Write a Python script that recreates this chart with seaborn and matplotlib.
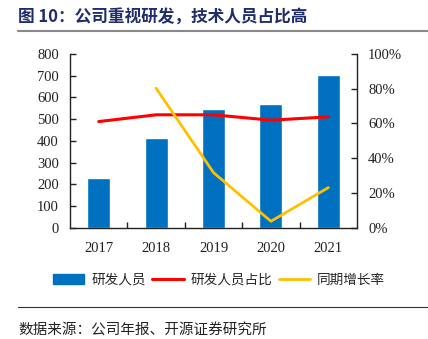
import matplotlib
matplotlib.use("Agg")
import matplotlib.pyplot as plt
from matplotlib.lines import Line2D
from matplotlib.patches import Patch
import seaborn as sns
import pandas as pd

years = ["2017", "2018", "2019", "2020", "2021"]
rd_staff = [229, 412, 546, 569, 702]
rd_share = [0.611, 0.650, 0.650, 0.619, 0.638]
yoy_growth = [None, 0.803, 0.317, 0.037, 0.231]

left_ticks = [0, 100, 200, 300, 400, 500, 600, 700, 800]
right_ticks = [0, 0.2, 0.4, 0.6, 0.8, 1.0]
right_labels = ["0%", "20%", "40%", "60%", "80%", "100%"]

sns.set_theme(style="white")
plt.rcParams["font.family"] = ["Liberation Serif", "Noto Sans CJK SC", "DejaVu Sans"]
cjk = ["Noto Sans CJK SC", "DejaVu Sans"]

BLUE = "#0070C0"
RED = "#FF0000"
YELLOW = "#FFC000"
INK = "#222222"

fig = plt.figure(figsize=(4.28, 3.39), dpi=100)
ax = fig.add_axes([0.1636, 0.3283, 0.6706, 0.5124])

df = pd.DataFrame({"year": years, "staff": rd_staff,
                   "share": rd_share, "growth": yoy_growth})
df["pos"] = range(len(years))

sns.barplot(data=df, x="year", y="staff", color=BLUE, width=0.4,
            saturation=1, ax=ax)
ax.set_xlim(-0.5, len(years) - 0.5)
ax.set_ylim(0, 800)
ax.set_yticks(left_ticks)
ax.set_xlabel("")
ax.set_ylabel("")

ax2 = ax.twinx()
sns.lineplot(data=df, x="pos", y="share", color=RED, linewidth=2.2, ax=ax2)
sns.lineplot(data=df.dropna(), x="pos", y="growth", color=YELLOW,
             linewidth=2.0, ax=ax2)
ax2.set_xlim(-0.5, len(years) - 0.5)
ax2.set_ylim(0, 1)
ax2.set_yticks(right_ticks)
ax2.set_yticklabels(right_labels)
ax2.set_xlabel("")
ax2.set_ylabel("")

# spines and ticks
for a in (ax, ax2):
    a.spines["top"].set_visible(False)
    for s in ("left", "right", "bottom"):
        a.spines[s].set_color(INK)
        a.spines[s].set_linewidth(1.0)
ax.spines["right"].set_visible(False)
ax2.spines["left"].set_visible(False)
ax2.spines["bottom"].set_visible(False)

ax.set_xticks(range(len(years)))
ax.set_xticklabels(years)
ax.set_xticks([i + 0.5 for i in range(len(years) - 1)], minor=True)
ax.tick_params(axis="x", which="major", length=0, pad=10, labelsize=10.5,
               colors=INK)
ax.tick_params(axis="x", which="minor", direction="in", length=4,
               width=1, color=INK, bottom=True)
ax.tick_params(axis="y", direction="in", length=4, width=1, left=True,
               labelsize=10.5, colors=INK, pad=8)
ax2.tick_params(axis="y", direction="in", length=4, width=1, right=True,
                labelsize=10.5, colors=INK, pad=8)

# legend
handles = [Patch(facecolor=BLUE, edgecolor=BLUE),
           Line2D([0], [0], color=RED, lw=2.2),
           Line2D([0], [0], color=YELLOW, lw=2.0)]
labels = ["研发人员", "研发人员占比", "同期增长率"]
fig.legend(handles, labels, loc="center", bbox_to_anchor=(0.512, 0.174),
           ncol=3, frameon=False, prop={"family": cjk, "size": 9.8},
           handlelength=2.3, handleheight=0.7, columnspacing=0.5,
           handletextpad=0.5)

# title, rules and source
fig.text(0.042, 0.947, "图 10：公司重视研发，技术人员占比高", fontsize=12,
         fontweight="bold", color="#1F2D6B", family=cjk, va="center")
fig.add_artist(Line2D([0.042, 1.0], [0.908, 0.908], color="#888888", lw=1.5,
                      transform=fig.transFigure))
fig.add_artist(Line2D([0.042, 1.0], [0.094, 0.094], color="#333333", lw=0.8,
                      transform=fig.transFigure))
fig.text(0.042, 0.024, "数据来源：公司年报、开源证券研究所", fontsize=10.5,
         color=INK, family=cjk, va="center")

fig.savefig("out.png", dpi=100)
